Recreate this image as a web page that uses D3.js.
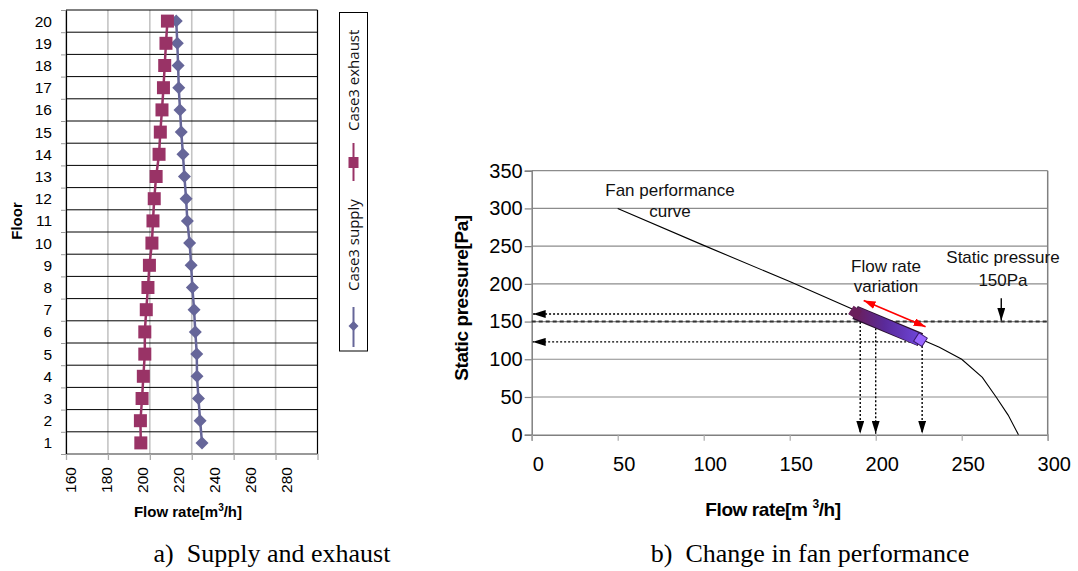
<!DOCTYPE html>
<html>
<head>
<meta charset="utf-8">
<script src="https://cdn.jsdelivr.net/npm/d3@7"></script>
<style>
  body { margin: 0; background: #fff; }
</style>
</head>
<body>
<div id="root"></div>
<script>
// ---- data: left chart (supply / exhaust per floor)
var floors = [1,2,3,4,5,6,7,8,9,10,11,12,13,14,15,16,17,18,19,20];
var supplyFlow  = [224.9,224.0,223.2,222.5,222.4,221.7,221.1,220.3,219.7,219.0,217.9,217.3,216.5,215.8,215.0,214.4,213.8,213.5,213.1,212.6];
var exhaustFlow = [195.7,195.5,196.3,196.9,197.6,197.6,198.3,199.1,199.8,201.0,201.5,202.1,203.0,204.4,205.0,205.8,206.5,207.1,207.7,208.4];
var gridFlowL = [160,180,200,220,240,260,280];
var flowLabelsL = [160,180,200,220,240,260,280];

// ---- data: right chart (fan performance)
var fanFlow     = [50,100,150,190,226,237,250,262,270,277,283];
var fanPressure = [300,251,203,163,127,116,100,76,50,26,0];
var pressureTicks = [0,50,100,150,200,250,300,350];
var flowTicksR = [0,50,100,150,200,250,300];
var staticPressure = 150;
// operating range on the curve
var bandFlow = [188,226];
var bandPressure = [162,126];
// dotted projections
var hArrowPressure = [160,123];
var hArrowFlow = [188,227];
var vArrowFlow = [191,200,227];
var vArrowPressure = [160,141,123];

var SANS = "Liberation Sans, Arial, sans-serif";
var SERIF = "Liberation Serif, Times New Roman, serif";

var svg = d3.select("#root").append("svg")
    .attr("width", 1078)
    .attr("height", 571)
    .style("font-family", SANS);

// arrow heads
var defs = svg.append("defs");
defs.append("marker")
    .attr("id", "head")
    .attr("viewBox", "0 0 13 8")
    .attr("refX", 13).attr("refY", 4)
    .attr("markerWidth", 13).attr("markerHeight", 8)
    .attr("markerUnits", "userSpaceOnUse")
    .attr("orient", "auto-start-reverse")
  .append("path").attr("d", "M0,0L13,4L0,8Z").attr("fill", "#000");
defs.append("marker")
    .attr("id", "redhead")
    .attr("viewBox", "0 0 12 8")
    .attr("refX", 12).attr("refY", 4)
    .attr("markerWidth", 12).attr("markerHeight", 8)
    .attr("markerUnits", "userSpaceOnUse")
    .attr("orient", "auto-start-reverse")
  .append("path").attr("d", "M0,0L12,4L0,8Z").attr("fill", "#ff0000");
var grad = defs.append("linearGradient").attr("id", "band")
    .attr("x1", "0%").attr("x2", "100%").attr("y1", "0%").attr("y2", "0%");
grad.append("stop").attr("offset", "0%").attr("stop-color", "#6a1f5c");
grad.append("stop").attr("offset", "45%").attr("stop-color", "#5a2a9a");
grad.append("stop").attr("offset", "100%").attr("stop-color", "#6d45d8");

// ================= left chart =================
// grid + data scale
var xL = d3.scaleLinear().domain([160, 280]).range([66, 317.5]);
// the rotated labels in the source sit on a tighter spacing than the grid
var xLab = d3.scaleLinear().domain([160, 300]).range([66, 317.5]);
var yL = d3.scaleLinear().domain([0.5, 20.5]).range([454, 10]);
var gL = svg.append("g");

// vertical grid
gL.selectAll(".vgrid").data(gridFlowL).enter().append("line")
    .attr("x1", d => xL(d)).attr("x2", d => xL(d))
    .attr("y1", yL(0.5)).attr("y2", yL(20.5))
    .attr("stroke", d => d == 280 ? "#000" : "#c4c4c4")
    .attr("stroke-width", d => d == 280 ? 1.2 : 1.6);

// horizontal lines at floor boundaries
var bounds = floors.map(f => f + 0.5);
bounds.unshift(0.5);
gL.selectAll(".hgrid").data(bounds).enter().append("line")
    .attr("x1", xL(160)).attr("x2", xL(280))
    .attr("y1", d => yL(d)).attr("y2", d => yL(d))
    .attr("stroke", d => d == 0.5 ? "#777" : "#000")
    .attr("stroke-width", d => d == 0.5 ? 1.6 : 1);

// y axis: labels at floor centres, ticks at boundaries
var yAxisL = gL.append("g").attr("transform", "translate(" + xL(160) + ",0)")
    .call(d3.axisLeft(yL).tickValues(floors).tickSize(0).tickPadding(14));
yAxisL.select(".domain").attr("stroke", "#000").attr("stroke-width", 1.2);
yAxisL.selectAll("text").attr("font-size", 15.5).style("font-family", SANS).attr("fill", "#000");
var yTickL = gL.append("g").attr("transform", "translate(" + xL(160) + ",0)")
    .call(d3.axisLeft(yL).tickValues(bounds).tickSize(5).tickFormat(""));
yTickL.select(".domain").remove();
yTickL.selectAll("line").attr("stroke", "#999");

// x axis ticks on the grid
var xTickL = gL.append("g").attr("transform", "translate(0," + yL(0.5) + ")")
    .call(d3.axisBottom(xL).tickValues(gridFlowL).tickSize(6).tickFormat(""));
xTickL.select(".domain").remove();
xTickL.selectAll("line").attr("stroke", "#aaa").attr("stroke-width", 1.3);
// x axis labels
var xAxisL = gL.append("g").attr("transform", "translate(0," + yL(0.5) + ")")
    .call(d3.axisBottom(xLab).tickValues(flowLabelsL).tickSize(0));
xAxisL.select(".domain").remove();
xAxisL.selectAll("text")
    .attr("font-size", 15.5).style("font-family", SANS).attr("fill", "#000")
    .attr("text-anchor", "end")
    .attr("transform", "translate(4,13) rotate(-90)")
    .attr("x", 0).attr("y", 0).attr("dy", "0.35em");

// series lines
var lineS = d3.line().x((d, i) => xL(supplyFlow[i])).y(d => yL(d));
var lineE = d3.line().x((d, i) => xL(exhaustFlow[i])).y(d => yL(d));
gL.append("path").datum(floors).attr("d", lineS)
    .attr("fill", "none").attr("stroke", "#666699").attr("stroke-width", 2.5);
gL.append("path").datum(floors).attr("d", lineE)
    .attr("fill", "none").attr("stroke", "#993366").attr("stroke-width", 2.5);

// markers
gL.selectAll(".dia").data(floors).enter().append("path")
    .attr("d", "M0,-6.5L6.5,0L0,6.5L-6.5,0Z")
    .attr("transform", (d, i) => "translate(" + xL(supplyFlow[i]) + "," + yL(d) + ")")
    .attr("fill", "#666699");
gL.selectAll(".sq").data(floors).enter().append("rect")
    .attr("x", (d, i) => xL(exhaustFlow[i]) - 6.5)
    .attr("y", d => yL(d) - 6.5)
    .attr("width", 13).attr("height", 13)
    .attr("fill", "#993366");

// axis titles
gL.append("text").attr("transform", "translate(22,221) rotate(-90)")
    .attr("text-anchor", "middle").attr("font-weight", "bold").attr("font-size", 15)
    .text("Floor");
var tL = gL.append("text").attr("x", 188).attr("y", 517)
    .attr("text-anchor", "middle").attr("font-weight", "bold").attr("font-size", 15);
tL.append("tspan").text("Flow rate[m");
tL.append("tspan").attr("dy", -6).attr("font-size", 10).text("3");
tL.append("tspan").attr("dy", 6).text("/h]");

// legend
var lg = gL.append("g");
lg.append("rect").attr("x", 339.5).attr("y", 12.5).attr("width", 28).attr("height", 338.5)
    .attr("fill", "#fff").attr("stroke", "#000").attr("stroke-width", 1);
lg.append("line").attr("x1", 353.5).attr("x2", 353.5).attr("y1", 307).attr("y2", 347)
    .attr("stroke", "#666699").attr("stroke-width", 2);
lg.append("path").attr("d", "M0,-5L5,0L0,5L-5,0Z").attr("transform", "translate(353.5,326)")
    .attr("fill", "#666699");
lg.append("line").attr("x1", 353.5).attr("x2", 353.5).attr("y1", 143).attr("y2", 181)
    .attr("stroke", "#993366").attr("stroke-width", 2);
lg.append("rect").attr("x", 348.5).attr("y", 157).attr("width", 10).attr("height", 11)
    .attr("fill", "#993366");
lg.append("text").attr("transform", "translate(359,291) rotate(-90)")
    .style("font-family", "Open Sans, Noto Sans, sans-serif").attr("font-size", 15).attr("fill", "#111")
    .text("Case3 supply");
lg.append("text").attr("transform", "translate(359,131) rotate(-90)")
    .style("font-family", "Open Sans, Noto Sans, sans-serif").attr("font-size", 15).attr("fill", "#111")
    .text("Case3 exhaust");

// ================= right chart =================
var xR = d3.scaleLinear().domain([0, 300]).range([531.7, 1047.7]);
var yR = d3.scaleLinear().domain([0, 350]).range([434.7, 170.7]);
var gR = svg.append("g");

// horizontal grid
gR.selectAll(".hg").data(pressureTicks.filter(d => d > 0)).enter().append("line")
    .attr("x1", xR(0)).attr("x2", xR(300))
    .attr("y1", d => yR(d)).attr("y2", d => yR(d))
    .attr("stroke", "#8c8c8c").attr("stroke-width", 1.2);
// right border
gR.append("line").attr("x1", xR(300)).attr("x2", xR(300))
    .attr("y1", yR(350)).attr("y2", yR(0))
    .attr("stroke", "#808080").attr("stroke-width", 1.5);

var yAxisR = gR.append("g").attr("transform", "translate(" + xR(0) + ",0)")
    .call(d3.axisLeft(yR).tickValues(pressureTicks).tickSize(7).tickPadding(2));
yAxisR.select(".domain").attr("stroke", "#808080").attr("stroke-width", 1.5);
yAxisR.selectAll("line").attr("stroke", "#808080").attr("stroke-width", 1.2);
yAxisR.selectAll("text").attr("font-size", 20).style("font-family", SANS).attr("fill", "#000");

var xAxisR = gR.append("g").attr("transform", "translate(0," + yR(0) + ")")
    .call(d3.axisBottom(xR).tickValues(flowTicksR).tickSize(6).tickPadding(16));
xAxisR.select(".domain").attr("stroke", "#808080").attr("stroke-width", 1.5);
xAxisR.selectAll("line").attr("stroke", "#aaa").attr("stroke-width", 1.2);
xAxisR.selectAll("text").attr("font-size", 20).style("font-family", SANS)
    .attr("fill", "#000").attr("dx", 6);

// fan curve
var fanLine = d3.line().x((d, i) => xR(fanFlow[i])).y(d => yR(d));
gR.append("path").datum(fanPressure).attr("d", fanLine)
    .attr("fill", "none").attr("stroke", "#000").attr("stroke-width", 1.1);

// static pressure line
gR.append("line").attr("x1", xR(0)).attr("x2", xR(300))
    .attr("y1", yR(staticPressure)).attr("y2", yR(staticPressure))
    .attr("stroke", "#333").attr("stroke-width", 2).attr("stroke-dasharray", "4,3");

// dotted horizontal projections
hArrowPressure.forEach(function(p, i) {
  gR.append("line")
    .attr("x1", xR(hArrowFlow[i])).attr("x2", xR(0) + 1)
    .attr("y1", yR(p)).attr("y2", yR(p))
    .attr("stroke", "#000").attr("stroke-width", 1.4).attr("stroke-dasharray", "2,2")
    .attr("marker-end", "url(#head)");
});
// dotted vertical projections
vArrowFlow.forEach(function(f, i) {
  gR.append("line")
    .attr("x1", xR(f)).attr("x2", xR(f))
    .attr("y1", yR(vArrowPressure[i])).attr("y2", yR(0) - 1)
    .attr("stroke", "#000").attr("stroke-width", 1.4).attr("stroke-dasharray", "2,2")
    .attr("marker-end", "url(#head)");
});

// operating range band
gR.append("line")
    .attr("x1", xR(bandFlow[0])).attr("y1", yR(bandPressure[0]))
    .attr("x2", xR(bandFlow[1])).attr("y2", yR(bandPressure[1]))
    .attr("stroke", "#2a1030").attr("stroke-width", 14).attr("stroke-linecap", "butt");
gR.append("line")
    .attr("x1", xR(bandFlow[0]) + 1).attr("y1", yR(bandPressure[0]))
    .attr("x2", xR(bandFlow[1]) - 1).attr("y2", yR(bandPressure[1]))
    .attr("stroke", "url(#band)").attr("stroke-width", 12).attr("stroke-linecap", "butt");
gR.append("path").attr("d", "M0,-7L7,0L0,7L-7,0Z")
    .attr("transform", "translate(" + xR(bandFlow[1]) + "," + yR(bandPressure[1]) + ") rotate(-12)")
    .attr("fill", "#9966ff").attr("stroke", "#3a1a6a").attr("stroke-width", 1);
gR.append("path").attr("d", "M0,-7L7,0L0,7L-7,0Z")
    .attr("transform", "translate(" + xR(bandFlow[0]) + "," + yR(bandPressure[0]) + ") rotate(-12)")
    .attr("fill", "#6a1f5c");

// red double arrow
gR.append("line")
    .attr("x1", xR(193)).attr("y1", yR(178))
    .attr("x2", xR(229)).attr("y2", yR(143))
    .attr("stroke", "#ff0000").attr("stroke-width", 1.6)
    .attr("marker-start", "url(#redhead)").attr("marker-end", "url(#redhead)");

// static pressure pointer
gR.append("line")
    .attr("x1", xR(273)).attr("y1", yR(181))
    .attr("x2", xR(273)).attr("y2", yR(151))
    .attr("stroke", "#000").attr("stroke-width", 1.4)
    .attr("marker-end", "url(#head)");

// annotations
function note(x, y, s) {
  gR.append("text").attr("x", x).attr("y", y).attr("text-anchor", "middle")
    .attr("font-size", 17).attr("fill", "#111").text(s);
}
note(670, 196, "Fan performance");
note(670, 217, "curve");
note(886, 272, "Flow rate");
note(886, 292, "variation");
note(1003, 263, "Static pressure");
note(1003, 286, "150Pa");

// axis titles
gR.append("text").attr("transform", "translate(468,298) rotate(-90)")
    .attr("text-anchor", "middle").attr("font-weight", "bold").attr("font-size", 19)
    .attr("letter-spacing", -0.4)
    .text("Static pressure[Pa]");
var tR = gR.append("text").attr("x", 773).attr("y", 516)
    .attr("text-anchor", "middle").attr("font-weight", "bold").attr("font-size", 19)
    .attr("letter-spacing", -0.4);
tR.append("tspan").text("Flow rate[m ");
tR.append("tspan").attr("dy", -8).attr("font-size", 12).text("3");
tR.append("tspan").attr("dy", 8).text("/h]");

// captions
svg.append("text").attr("x", 272).attr("y", 562).attr("text-anchor", "middle")
    .style("font-family", SERIF).attr("font-size", 26)
    .text("a)\u2002Supply and exhaust");
svg.append("text").attr("x", 810).attr("y", 562).attr("text-anchor", "middle")
    .style("font-family", SERIF).attr("font-size", 26)
    .text("b)\u2002Change in fan performance");
</script>
</body>
</html>
